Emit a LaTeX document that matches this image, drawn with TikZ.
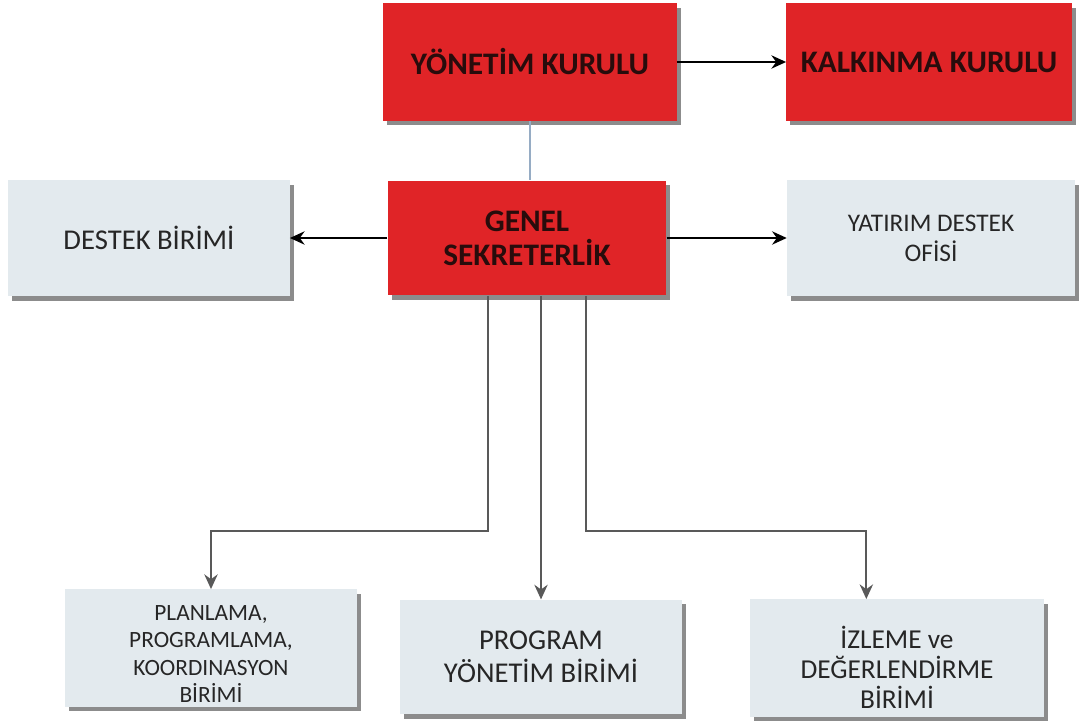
\documentclass[tikz,border=0pt]{standalone}
\usepackage{fontspec}
\setmainfont{Carlito}
\usepackage{tikz}
\usetikzlibrary{positioning, arrows.meta, shadows}

\definecolor{boardred}{RGB}{224,36,39}
\definecolor{unitgray}{RGB}{227,234,238}
\definecolor{linkblue}{RGB}{150,172,196}
\definecolor{textdark}{RGB}{40,12,12}

\begin{document}
\begin{tikzpicture}[>={Stealth[length=11pt, width=10pt]}, x=0.75pt, y=-0.75pt,
  box/.style={rectangle, inner sep=0pt, align=center,
    drop shadow={shadow xshift=3pt, shadow yshift=-3.5pt, fill=black, opacity=0.45}},
  redbox/.style={box, fill=boardred, text=textdark, font=\bfseries\fontsize{23.5}{25.5}\selectfont},
  graybox/.style={box, fill=unitgray, text=black!85, font=\fontsize{19}{22.5}\selectfont},
  link/.style={draw=black!65, line width=1.5pt}]

\useasboundingbox (0,0) rectangle (1080,727);

% Define nodes
\node[redbox, minimum width=220pt, minimum height=88pt] (yk) at (530,62) {YÖNETİM KURULU};
\node[redbox, minimum width=214pt, minimum height=88pt] (kk) at (929,62) {KALKINMA KURULU};
\node[redbox, minimum width=209pt, minimum height=86pt] (gs) at (527,238) {GENEL\\SEKRETERLİK};
\node[graybox, minimum width=211pt, minimum height=87pt, font=\fontsize{21.5}{24}\selectfont] (db) at (149,238) {DESTEK BİRİMİ};
\node[graybox, minimum width=216pt, minimum height=87pt] (yd) at (931,238) {YATIRIM DESTEK\\OFİSİ};
\node[graybox, minimum width=219pt, minimum height=88pt, font=\fontsize{17.5}{20.5}\selectfont] (pp) at (211,648) {\rule{0pt}{20pt}PLANLAMA,\\PROGRAMLAMA,\\KOORDINASYON\\BİRİMİ};
\node[graybox, minimum width=212pt, minimum height=86pt, font=\fontsize{21.5}{25}\selectfont] (py) at (541,657) {PROGRAM\\YÖNETİM BİRİMİ};
\node[graybox, minimum width=221pt, minimum height=88pt, font=\fontsize{20.5}{22.5}\selectfont] (id) at (897,658) {\rule{0pt}{30pt}İZLEME ve\\DEĞERLENDİRME\\BİRİMİ};

% Draw edges with arrows
\draw[->, line width=1.2pt] (yk.east) -- (kk.west);
\draw[linkblue, line width=1pt] (yk.south) -- (yk.south |- gs.north);
\draw[->, line width=1.2pt] (gs.west) -- (db.east);
\draw[->, line width=1.2pt] (gs.east) -- (yd.east -| yd.west);

% Lines down to the units
\draw[link, ->] ([xshift=-29pt]gs.south) -- ++(0,235) -| (pp.north);
\draw[link, ->] (py.north |- gs.south) -- (py.north);
\draw[link, ->] ([xshift=44pt]gs.south) -- ++(0,235) -| ([xshift=-23pt]id.north);

\end{tikzpicture}
\end{document}
